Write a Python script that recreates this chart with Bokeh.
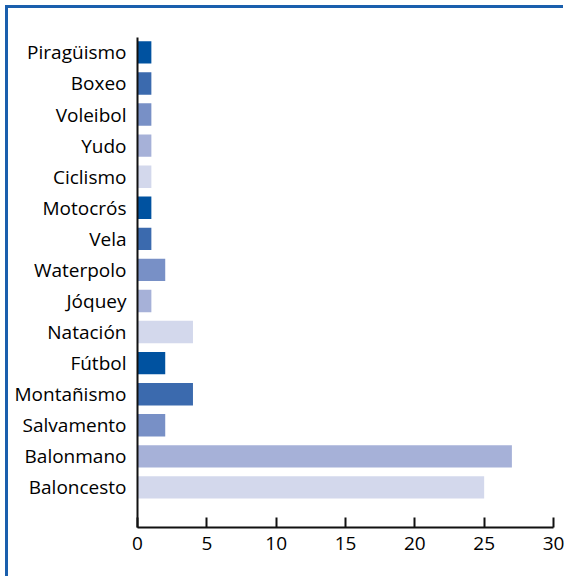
from bokeh.plotting import figure
from bokeh.models import ColumnDataSource, FixedTicker, Range1d
from bokeh.embed import file_html
from bokeh.resources import INLINE

categories = ["Piragüismo", "Boxeo", "Voleibol", "Yudo", "Ciclismo", "Motocrós", "Vela",
              "Waterpolo", "Jóquey", "Natación", "Fútbol", "Montañismo", "Salvamento",
              "Balonmano", "Baloncesto"]
values = [1, 1, 1, 1, 1, 1, 1, 2, 1, 4, 2, 4, 2, 27, 25]
palette = ["#0052a0", "#3b6aae", "#7890c6", "#a6b1d8", "#d3d8ec"]
x_ticks = [0, 5, 10, 15, 20, 25, 30]

n = len(categories)
ypos = [n - 1 - i for i in range(n)]
colors = [palette[i % len(palette)] for i in range(n)]

src = ColumnDataSource(dict(y=ypos, v=values, c=colors, name=categories))

FONT = "Open Sans"
FRAME = "#1a5fad"

p = figure(width=558, height=571, output_backend="svg", toolbar_location=None,
           x_range=Range1d(0, 30), y_range=Range1d(-1.29, n - 1 + 0.48),
           min_border_left=129, min_border_right=13, min_border_top=29, min_border_bottom=52,
           margin=(8, 0, 0, 8),
           styles={"box-shadow": f"-3px -3px 0px 0px {FRAME}"})

p.hbar(y="y", right="v", left=0, height=0.72, color="c", line_color=None, source=src)

p.xgrid.visible = False
p.ygrid.visible = False
p.outline_line_color = None

xa = p.xaxis[0]
xa.ticker = FixedTicker(ticks=x_ticks)
xa.major_tick_in = 10
xa.major_tick_out = 0
xa.minor_tick_line_color = None
xa.axis_line_width = 2
xa.major_tick_line_width = 2
xa.axis_line_color = "#111111"
xa.major_tick_line_color = "#111111"
xa.major_label_text_font = FONT
xa.major_label_text_font_size = "19px"
xa.major_label_text_color = "#000000"
xa.major_label_standoff = 9

ya = p.yaxis[0]
ya.ticker = FixedTicker(ticks=ypos)
ya.major_label_overrides = {y: name for y, name in zip(ypos, categories)}
ya.major_tick_line_color = None
ya.minor_tick_line_color = None
ya.axis_line_width = 2
ya.axis_line_color = "#111111"
ya.major_label_text_font = FONT
ya.major_label_text_font_size = "19px"
ya.major_label_text_color = "#000000"
ya.major_label_standoff = 5

open("out.html", "w").write(file_html(p, INLINE))
